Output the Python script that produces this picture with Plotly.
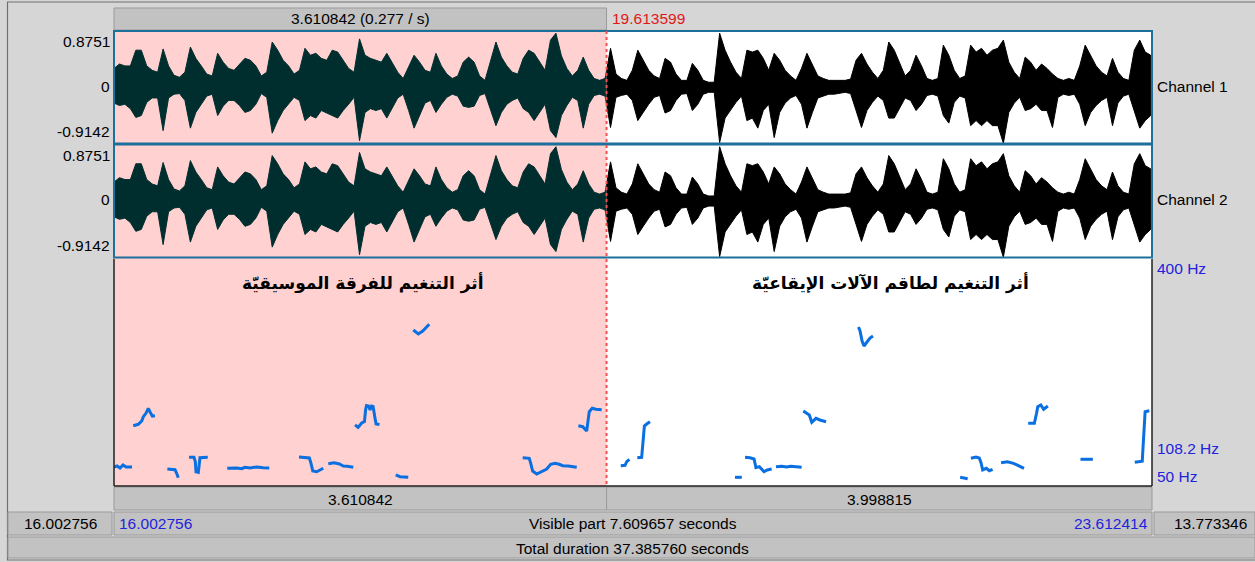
import numpy as np
import plotly.graph_objects as go

# ---------------------------------------------------------------- data
T_START = 16.002756          # left edge of the visible window (s)
T_END = 23.612414            # right edge of the visible window (s)
CURSOR = 19.613599           # cursor / end of selection (s)
AMP_MIN, AMP_MAX = -0.9142, 0.8751
F_MIN, F_MAX = 50, 400
F_MARK = 108.2

# texts of the editor's bars, as Praat prints them
sel_text = "3.610842 (0.277 / s)"
cursor_text = "19.613599"
left_part_text = "3.610842"
right_part_text = "3.998815"
before_text = "16.002756"
start_text = "16.002756"
visible_text = "Visible part 7.609657 seconds"
end_text = "23.612414"
after_text = "13.773346"
total_text = "Total duration 37.385760 seconds"
amp_ticks = ["0.8751", "0", "-0.9142"]
pitch_ticks = ["400 Hz", "108.2 Hz", "50 Hz"]

# waveform envelope, one max/min pair every 40 ms from T_START
WAVE_STEP = 0.04
ch1_upper = [
    0.28, 0.35, 0.32, 0.32, 0.57, 0.57, 0.32, 0.25, 0.22, 0.59,
    0.32, 0.17, 0.14, 0.22, 0.62, 0.44, 0.32, 0.19, 0.16, 0.52,
    0.38, 0.28, 0.25, 0.35, 0.44, 0.41, 0.32, 0.16, 0.22, 0.70,
    0.57, 0.41, 0.32, 0.19, 0.25, 0.60, 0.49, 0.52, 0.44, 0.41,
    0.57, 0.54, 0.41, 0.28, 0.22, 0.75, 0.49, 0.44, 0.41, 0.38,
    0.52, 0.38, 0.22, 0.12, 0.32, 0.49, 0.38, 0.25, 0.22, 0.52,
    0.32, 0.19, 0.12, 0.16, 0.38, 0.46, 0.38, 0.16, 0.09, 0.41,
    0.70, 0.46, 0.32, 0.22, 0.19, 0.44, 0.57, 0.52, 0.38, 0.25,
    0.73, 0.84, 0.48, 0.28, 0.16, 0.25, 0.46, 0.25, 0.12, 0.09,
    0.12, 0.60, 0.19, 0.12, 0.09, 0.25, 0.57, 0.41, 0.25, 0.16,
    0.12, 0.44, 0.38, 0.19, 0.09, 0.09, 0.36, 0.25, 0.09, 0.06,
    0.06, 0.84, 0.57, 0.38, 0.22, 0.12, 0.57, 0.54, 0.57, 0.44,
    0.25, 0.52, 0.41, 0.25, 0.16, 0.09, 0.28, 0.52, 0.35, 0.16,
    0.12, 0.09, 0.09, 0.09, 0.09, 0.11, 0.41, 0.52, 0.35, 0.22,
    0.12, 0.25, 0.70, 0.57, 0.35, 0.16, 0.25, 0.49, 0.32, 0.12,
    0.09, 0.12, 0.65, 0.49, 0.25, 0.12, 0.16, 0.65, 0.54, 0.60,
    0.49, 0.57, 0.60, 0.73, 0.38, 0.22, 0.12, 0.46, 0.38, 0.25,
    0.35, 0.28, 0.19, 0.12, 0.09, 0.12, 0.09, 0.32, 0.65, 0.48,
    0.32, 0.22, 0.16, 0.44, 0.22, 0.12, 0.09, 0.57, 0.73, 0.54,
    0.49,
]
ch1_lower = [
    -0.27, -0.31, -0.29, -0.36, -0.50, -0.47, -0.26, -0.19, -0.19, -0.71,
    -0.19, -0.13, -0.12, -0.23, -0.67, -0.42, -0.29, -0.16, -0.13, -0.47,
    -0.32, -0.23, -0.23, -0.31, -0.42, -0.39, -0.29, -0.12, -0.18, -0.75,
    -0.55, -0.39, -0.29, -0.18, -0.23, -0.55, -0.47, -0.51, -0.39, -0.42,
    -0.47, -0.51, -0.39, -0.29, -0.18, -0.87, -0.42, -0.36, -0.39, -0.36,
    -0.51, -0.36, -0.19, -0.13, -0.39, -0.67, -0.47, -0.27, -0.23, -0.42,
    -0.29, -0.18, -0.13, -0.16, -0.32, -0.34, -0.32, -0.15, -0.12, -0.39,
    -0.63, -0.42, -0.29, -0.23, -0.19, -0.36, -0.42, -0.55, -0.42, -0.29,
    -0.71, -0.82, -0.47, -0.31, -0.18, -0.23, -0.67, -0.29, -0.15, -0.13,
    -0.16, -0.66, -0.18, -0.15, -0.13, -0.23, -0.55, -0.42, -0.29, -0.18,
    -0.15, -0.43, -0.39, -0.23, -0.13, -0.12, -0.39, -0.29, -0.13, -0.10,
    -0.10, -0.90, -0.51, -0.39, -0.26, -0.16, -0.55, -0.51, -0.67, -0.39,
    -0.29, -0.82, -0.42, -0.27, -0.19, -0.15, -0.29, -0.67, -0.42, -0.19,
    -0.16, -0.13, -0.13, -0.12, -0.10, -0.12, -0.39, -0.66, -0.39, -0.26,
    -0.16, -0.23, -0.51, -0.51, -0.36, -0.19, -0.23, -0.39, -0.29, -0.15,
    -0.13, -0.16, -0.47, -0.59, -0.26, -0.16, -0.19, -0.63, -0.55, -0.63,
    -0.55, -0.63, -0.63, -0.91, -0.42, -0.27, -0.18, -0.39, -0.36, -0.29,
    -0.39, -0.39, -0.66, -0.18, -0.13, -0.15, -0.13, -0.29, -0.63, -0.42,
    -0.31, -0.23, -0.18, -0.63, -0.27, -0.16, -0.13, -0.39, -0.67, -0.55,
    -0.47,
]
# the second channel carries practically the same signal
ch2_upper = list(ch1_upper)
ch2_lower = list(ch1_lower)

# pitch track (s, Hz); None separates voiced stretches
pitch_time = [
    16.003, 16.025, 16.047, 16.069, 16.091, 16.135, None,
    16.144, 16.181, 16.206, 16.218, 16.237, 16.254, 16.272, 16.284, 16.303, None,
    16.394, 16.450, 16.462, 16.474, None,
    16.553, 16.589, 16.599, 16.604, 16.621, 16.626, 16.633, 16.690, None,
    16.833, 16.902, 16.939, 16.963, 17.000, 17.049, 17.097, 17.141, None,
    17.359, 17.435, 17.447, 17.460, 17.489, 17.518, 17.537, None,
    17.574, 17.616, 17.655, 17.684, 17.713, 17.757, None,
    17.770, 17.792, 17.819, 17.839, 17.847, 17.854, 17.869, 17.880, 17.891,
    17.902, 17.916, 17.924, 17.949, None,
    18.068, 18.100, 18.160, None,
    18.197, 18.234, 18.266, 18.314, None,
    18.999, 19.047, 19.058, 19.072, 19.102, 19.138, 19.175, 19.204, 19.236,
    19.267, 19.292, 19.333, 19.395, None,
    19.407, 19.439, 19.468, 19.476, 19.487, 19.509, 19.536, 19.578, None,
    19.718, 19.749, 19.762, 19.781, None,
    19.839, 19.871, 19.879, 19.883, 19.891, 19.908, 19.932, None,
    20.555, 20.605, None,
    20.629, 20.665, 20.695, 20.709, 20.734, 20.768, 20.792, 20.824, None,
    20.856, 20.898, 20.934, 20.964, 21.044, None,
    21.056, 21.081, 21.100, 21.118, 21.149, 21.178, 21.223, None,
    21.461, 21.472, 21.487, 21.501, 21.523, 21.545, 21.567, None,
    22.206, 22.261, None,
    22.285, 22.322, 22.346, 22.359, 22.371, 22.398, 22.420, 22.444, None,
    22.506, 22.552, 22.597, 22.628, 22.674, None,
    22.705, 22.750, 22.766, 22.775, 22.797, 22.818, 22.849, None,
    23.088, 23.179, None,
    23.486, 23.541, 23.547, 23.556, 23.562, 23.593,
]
pitch_hz = [
    79.3, 80.8, 77.8, 82.4, 79.3, 79.3, None,
    143.0, 145.1, 150.2, 156.9, 162.1, 169.8, 162.1, 157.9, 158.4, None,
    76.2, 75.1, 69.6, 62.8, None,
    94.3, 94.3, 87.5, 72.0, 71.1, 85.0, 93.6, 94.3, None,
    77.3, 77.8, 76.7, 78.8, 77.8, 79.3, 78.2, 77.8, None,
    94.7, 93.2, 85.0, 73.1, 72.0, 75.7, 77.3, None,
    84.4, 85.9, 83.9, 80.8, 80.4, 78.8, None,
    144.1, 140.2, 147.1, 149.4, 167.2, 174.1, 173.3, 167.2, 173.3,
    172.6, 154.8, 145.6, 144.8, None,
    67.0, 64.3, 63.4, None,
    290.5, 284.4, 289.0, 299.3, None,
    93.6, 92.7, 85.0, 73.1, 68.5, 72.0, 76.2, 83.5, 85.0,
    83.5, 81.3, 80.8, 78.8, None,
    143.0, 141.4, 134.8, 149.1, 164.6, 169.8, 168.3, 167.6, None,
    81.3, 81.9, 87.5, 91.2, None,
    93.6, 94.3, 113.2, 128.6, 142.5, 145.6, 149.1, None,
    63.4, 63.4, None,
    94.3, 93.6, 91.6, 78.2, 79.8, 72.0, 74.7, 76.2, None,
    79.8, 80.4, 79.3, 80.4, 78.8, None,
    165.6, 162.1, 159.5, 148.2, 154.4, 151.8, 149.1, None,
    295.2, 289.0, 273.6, 265.9, 272.0, 278.2, 281.3, None,
    63.4, 61.3, None,
    92.7, 94.7, 93.2, 85.9, 74.7, 77.3, 73.6, 75.7, None,
    85.9, 87.5, 85.0, 81.9, 77.3, None,
    146.7, 146.7, 162.1, 172.3, 174.9, 168.3, 173.3, None,
    91.2, 91.2, None,
    86.5, 88.1, 110.6, 146.7, 164.6, 166.1,
]

title_left = "أثر التنغيم للفرقة الموسيقيّة"
title_right = "أثر التنغيم لطاقم الآلات الإيقاعيّة"

# ---------------------------------------------------------------- layout helpers
W, H = 1255, 562
PL, PR = 114, 1152                     # data area left / right (px)
CH1_TOP, CH1_BOT = 31, 143.5
CH2_TOP, CH2_BOT = 144.5, 257.5
P_TOP, P_BOT = 259, 486
X_CUR = PL + (CURSOR - T_START) / (T_END - T_START) * (PR - PL)

BG = "#d6d6d6"
BAR = "#c2c2c2"
PINK = "#ffd1d1"
TEAL = "#002e2e"
BLUE_TXT = "#2222dd"
FONT = "Liberation Sans, Arial, sans-serif"
FS = 15.5


def fx(x):
    return x / W


def fy(y):
    return 1 - y / H


shapes = []
annotations = []


def rect(x0, y0, x1, y1, fill, line=None, width=0, layer="below"):
    shapes.append(dict(type="rect", xref="paper", yref="paper",
                       x0=fx(x0), x1=fx(x1), y0=fy(y1), y1=fy(y0),
                       fillcolor=fill, layer=layer,
                       line=dict(color=line or fill, width=width)))


def hline(x0, x1, y, color, width=1, dash=None, layer="above"):
    shapes.append(dict(type="line", xref="paper", yref="paper",
                       x0=fx(x0), x1=fx(x1), y0=fy(y), y1=fy(y), layer=layer,
                       line=dict(color=color, width=width, dash=dash)))


def vline(x, y0, y1, color, width=1, dash=None, layer="above"):
    shapes.append(dict(type="line", xref="paper", yref="paper",
                       x0=fx(x), x1=fx(x), y0=fy(y0), y1=fy(y1), layer=layer,
                       line=dict(color=color, width=width, dash=dash)))


def label(x, y, text, anchor="center", color="#000000", size=FS,
          family=FONT, bold=False):
    if bold:
        text = "<b>" + text + "</b>"
    annotations.append(dict(x=fx(x), y=fy(y), xref="paper", yref="paper",
                            text=text, showarrow=False, xanchor=anchor,
                            yanchor="middle",
                            font=dict(family=family, size=size, color=color)))


# ---------------------------------------------------------------- frame & bars
rect(7.5, 2, 1256, 560, BG, line="#707070", width=1.2)
rect(PL, 8, X_CUR, 30, BAR, line="#9a9a9a", width=1)           # selection bar
rect(PL, CH1_TOP, PR, P_BOT, "#ffffff")                          # data area
rect(PL, CH1_TOP, X_CUR, P_BOT, PINK)                            # selection
rect(PL, 487, X_CUR, 510, BAR, line="#9a9a9a", width=1)
rect(X_CUR, 487, PR, 510, BAR, line="#9a9a9a", width=1)
rect(8, 512, 112, 535, BAR, line="#9a9a9a", width=1)
rect(PL, 512, PR, 535, BAR, line="#9a9a9a", width=1)
rect(1154, 512, 1255, 535, BAR, line="#9a9a9a", width=1)
rect(8, 537, 1255, 558, BAR, line="#9a9a9a", width=1)

# panel borders
vline(PL, P_TOP, P_BOT, "#202020", 1.5)
vline(PR, P_TOP, P_BOT, "#202020", 1.5)
hline(PL, PR, P_BOT, "#202020", 1.5)
for top, bot in ((CH1_TOP, CH1_BOT), (CH2_TOP, CH2_BOT)):
    shapes.append(dict(type="rect", xref="paper", yref="paper",
                       x0=fx(PL), x1=fx(PR), y0=fy(bot), y1=fy(top),
                       layer="above", line=dict(color="#1d6f9c", width=2)))
vline(X_CUR, CH1_TOP, P_BOT, "#f05050", 2, dash="dot")

# ---------------------------------------------------------------- texts
label(360, 18, sel_text)
label(610, 18, cursor_text, anchor="left", color="#e01818")
for top, bot, name in ((CH1_TOP, CH1_BOT, "Channel 1"), (CH2_TOP, CH2_BOT, "Channel 2")):
    zero = bot - (0 - AMP_MIN) / (AMP_MAX - AMP_MIN) * (bot - top)
    label(112, top + 11, amp_ticks[0], anchor="right")
    label(112, zero, amp_ticks[1], anchor="right")
    label(112, bot - 12, amp_ticks[2], anchor="right")
    label(1155, zero, name, anchor="left")
f_px = P_BOT - (F_MARK - F_MIN) / (F_MAX - F_MIN) * (P_BOT - P_TOP)
label(1155, P_TOP + 9, pitch_ticks[0], anchor="left", color=BLUE_TXT)
label(1155, f_px, pitch_ticks[1], anchor="left", color=BLUE_TXT)
label(1155, P_BOT - 10, pitch_ticks[2], anchor="left", color=BLUE_TXT)

label(362, 283, title_left, family="DejaVu Sans", size=17, bold=True)
label(890, 283, title_right, family="DejaVu Sans", size=17, bold=True)

label((PL + X_CUR) / 2, 499, left_part_text)
label((X_CUR + PR) / 2, 499, right_part_text)
label(60, 523, before_text)
label(117, 523, start_text, anchor="left", color=BLUE_TXT)
label(633, 523, visible_text)
label(1150, 523, end_text, anchor="right", color=BLUE_TXT)
label(1210, 523, after_text)
label(633, 548, total_text)

# ---------------------------------------------------------------- traces
wave_time = T_START + WAVE_STEP * np.arange(len(ch1_upper))
fig = go.Figure()
for upper, lower, yax in ((ch1_upper, ch1_lower, "y"), (ch2_upper, ch2_lower, "y2")):
    xs = list(wave_time) + list(wave_time[::-1])
    ys = list(upper) + list(lower[::-1])
    for xax, col in (("x2", TEAL), ("x3", "#000000")):
        fig.add_trace(go.Scatter(x=xs, y=ys, mode="lines", fill="toself",
                                 fillcolor=col, line=dict(color=col, width=1),
                                 xaxis=xax, yaxis=yax, hoverinfo="skip"))

fig.add_trace(go.Scatter(x=pitch_time, y=pitch_hz, mode="lines",
                         connectgaps=False,
                         line=dict(color="#0a6fe0", width=3),
                         xaxis="x", yaxis="y3", hoverinfo="skip"))

hidden = dict(visible=False, fixedrange=True)
fig.update_layout(
    width=W, height=H,
    margin=dict(l=0, r=0, t=0, b=0),
    paper_bgcolor=BG, plot_bgcolor="rgba(0,0,0,0)",
    showlegend=False,
    xaxis=dict(domain=[fx(PL), fx(PR)], range=[T_START, T_END], anchor="y3", **hidden),
    xaxis2=dict(domain=[fx(PL), fx(X_CUR)], range=[T_START, CURSOR], anchor="y", **hidden),
    xaxis3=dict(domain=[fx(X_CUR), fx(PR)], range=[CURSOR, T_END], anchor="y", **hidden),
    yaxis=dict(domain=[fy(CH1_BOT), fy(CH1_TOP)], range=[AMP_MIN, AMP_MAX], anchor="x2", **hidden),
    yaxis2=dict(domain=[fy(CH2_BOT), fy(CH2_TOP)], range=[AMP_MIN, AMP_MAX], anchor="x2", **hidden),
    yaxis3=dict(domain=[fy(P_BOT), fy(P_TOP)], range=[F_MIN, F_MAX], anchor="x", **hidden),
    shapes=shapes,
    annotations=annotations,
)

fig.write_html("out.html")
